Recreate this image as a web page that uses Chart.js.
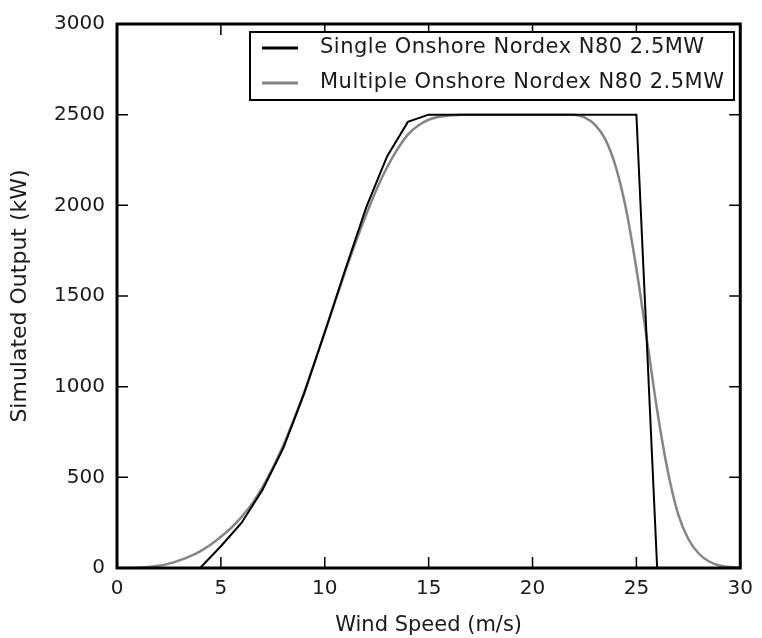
<!DOCTYPE html>
<html>
<head>
<meta charset="utf-8">
<script src="https://cdn.jsdelivr.net/npm/chart.js@4"></script>
<style>
  html, body { margin: 0; padding: 0; background: #fff; }
  canvas { display: block; }
</style>
</head>
<body>
<canvas id="c" width="762" height="638"></canvas>
<script>
// ---- data ----
const seriesNames = ["Single Onshore Nordex N80 2.5MW", "Multiple Onshore Nordex N80 2.5MW"];

const singleSpeeds = [0,1,2,3,4,5,6,7,8,9,10,11,12,13,14,15,16,17,18,19,20,21,22,23,24,25,26,27,28,29,30];
const singleOutput = [0,0,0,0,0,120,250,430,660,960,1300,1650,1990,2270,2460,2500,2500,2500,2500,2500,2500,2500,2500,2500,2500,2500,0,0,0,0,0];

const multipleSpeeds = [0,0.5,1,1.5,2,2.5,3,3.5,4,4.5,5,5.5,6,6.5,7,7.5,8,8.5,9,9.5,10,10.5,11,11.5,12,12.5,13,13.5,14,14.5,15,15.5,16,16.5,17,17.5,18,18.5,19,19.5,20,20.5,21,21.5,22,22.5,23,23.5,24,24.5,25,25.5,26,26.5,27,27.5,28,28.5,29,29.5,30];
const multipleOutput = [0,0,2,5,12,24,42,64,92,128,172,222,282,355,445,552,675,815,965,1130,1300,1470,1640,1800,1950,2090,2210,2310,2390,2440,2472,2488,2496,2499,2500,2500,2500,2500,2500,2500,2500,2500,2500,2500,2500,2485,2445,2365,2215,1980,1650,1265,870,540,300,160,80,36,14,5,1];

const xTickValues = [0,5,10,15,20,25,30];
const yTickValues = [0,500,1000,1500,2000,2500,3000];
const xTitle = "Wind Speed (m/s)";
const yTitle = "Simulated Output (kW)";

const toPoints = (xs, ys) => xs.map((x, i) => ({x: x, y: ys[i]}));

const FONT = "'DejaVu Sans', 'Liberation Sans', sans-serif";

// frame, inward ticks on all four sides, and boxed legend
const framePlugin = {
  id: 'frame',
  afterDatasetsDraw(chart) {
    const ctx = chart.ctx;
    const a = chart.chartArea;
    const xs = chart.scales.x, ys = chart.scales.y;
    const tl = 11;
    ctx.save();
    ctx.strokeStyle = '#000';
    ctx.lineWidth = 1.5;
    ctx.beginPath();
    xs.ticks.forEach(t => {
      const px = xs.getPixelForValue(t.value);
      ctx.moveTo(px, a.bottom); ctx.lineTo(px, a.bottom - tl);
      ctx.moveTo(px, a.top); ctx.lineTo(px, a.top + tl);
    });
    ys.ticks.forEach(t => {
      const py = ys.getPixelForValue(t.value);
      ctx.moveTo(a.left, py); ctx.lineTo(a.left + tl, py);
      ctx.moveTo(a.right, py); ctx.lineTo(a.right - tl, py);
    });
    ctx.stroke();
    ctx.lineWidth = 3;
    ctx.strokeRect(a.left, a.top, a.right - a.left, a.bottom - a.top);

    // legend
    const bx = 250, by = 32, bw = 484, bh = 68;
    ctx.fillStyle = '#fff';
    ctx.fillRect(bx, by, bw, bh);
    ctx.lineWidth = 2;
    ctx.strokeStyle = '#000';
    ctx.strokeRect(bx, by, bw, bh);
    const rows = [48, 83];
    chart.data.datasets.forEach((ds, i) => {
      const y = rows[i];
      ctx.strokeStyle = ds.borderColor;
      ctx.lineWidth = 3;
      ctx.beginPath();
      ctx.moveTo(262, y); ctx.lineTo(298, y);
      ctx.stroke();
      ctx.fillStyle = '#1a1a1a';
      ctx.font = "21px " + FONT;
      try { ctx.letterSpacing = '0.5px'; } catch (e) {}
      ctx.textAlign = 'left';
      ctx.textBaseline = 'middle';
      ctx.fillText(ds.label, 320, y);
      try { ctx.letterSpacing = '0px'; } catch (e) {}
    });
    ctx.restore();
  }
};

new Chart(document.getElementById('c'), {
  type: 'line',
  data: {
    datasets: [
      {
        label: seriesNames[0],
        data: toPoints(singleSpeeds, singleOutput),
        borderColor: '#000000',
        borderWidth: 2,
        pointRadius: 0,
        tension: 0,
        order: 1
      },
      {
        label: seriesNames[1],
        data: toPoints(multipleSpeeds, multipleOutput),
        borderColor: '#858585',
        borderWidth: 2.5,
        pointRadius: 0,
        cubicInterpolationMode: 'monotone',
        order: 2
      }
    ]
  },
  options: {
    responsive: false,
    animation: false,
    devicePixelRatio: 1,
    layout: { padding: { top: 20, right: 17, bottom: 0, left: 0 } },
    plugins: { legend: { display: false }, tooltip: { enabled: false } },
    scales: {
      x: {
        type: 'linear',
        min: 0, max: 30,
        afterBuildTicks: s => { s.ticks = xTickValues.map(v => ({value: v})); },
        afterFit: s => { s.height = 70; },
        grid: { display: false, drawTicks: false },
        border: { display: false },
        ticks: { color: '#1a1a1a', font: { family: FONT, size: 20 }, padding: 9, maxRotation: 0,
                 callback: v => String(v) },
        title: { display: true, text: xTitle, color: '#1a1a1a', font: { family: FONT, size: 21 }, padding: { top: 0, bottom: 0 } }
      },
      y: {
        type: 'linear',
        min: 0, max: 3000,
        afterBuildTicks: s => { s.ticks = yTickValues.map(v => ({value: v})); },
        afterFit: s => { s.width = 117; },
        grid: { display: false, drawTicks: false },
        border: { display: false },
        ticks: { color: '#1a1a1a', font: { family: FONT, size: 20 }, padding: 12,
                 callback: v => String(v) },
        title: { display: true, text: yTitle, color: '#1a1a1a', font: { family: FONT, size: 22 }, padding: { top: 7, bottom: 0 } }
      }
    }
  },
  plugins: [framePlugin]
});
</script>
</body>
</html>
